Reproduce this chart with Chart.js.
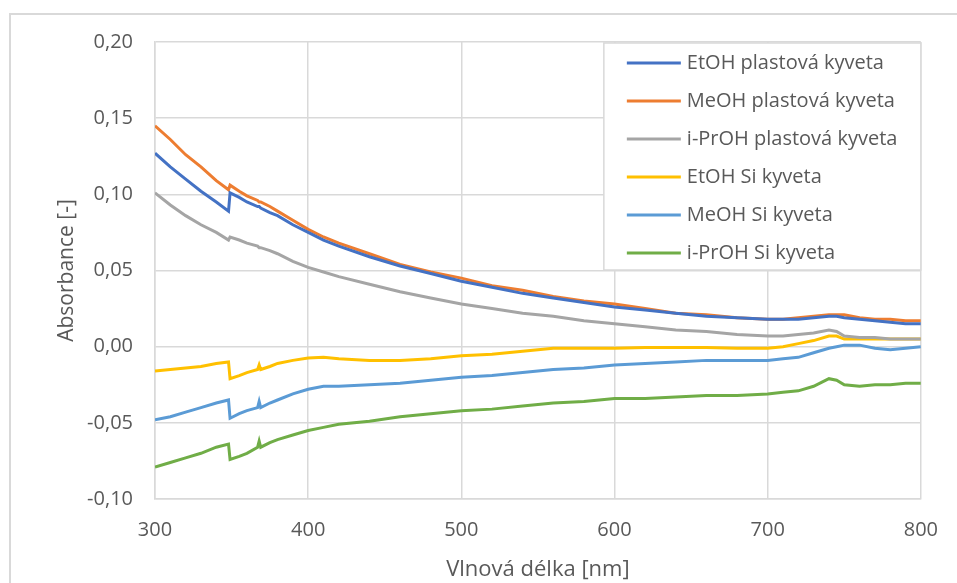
<!DOCTYPE html>
<html>
<head>
<meta charset="utf-8">
<script src="https://cdn.jsdelivr.net/npm/chart.js@4.4.1/dist/chart.umd.min.js"></script>
<style>
html, body { margin: 0; padding: 0; background: #fff; overflow: hidden; }
#wrap { position: relative; width: 957px; height: 583px; overflow: hidden; }
#wrap canvas { position: absolute; left: 0; top: 0; }
#frame { position: absolute; left: 9px; top: 13px; width: 1000px; height: 1000px;
         border: 2px solid #d9d9d9; box-sizing: border-box; pointer-events: none; }
</style>
</head>
<body>
<div id="wrap">
  <canvas id="chart" width="957" height="595"></canvas>
  <div id="frame"></div>
</div>
<script>
// wavelengths [nm]
const wavelengths = [300, 310, 320, 330, 340, 348, 349, 355, 360, 367, 368, 369, 375, 380, 390,
  400, 410, 420, 440, 460, 480, 500, 520, 540, 560, 580, 600, 620, 640, 660, 680,
  700, 710, 720, 730, 740, 745, 750, 760, 770, 780, 790, 800];

const etohPlast = [0.127, 0.118, 0.110, 0.102, 0.095, 0.089, 0.101, 0.098, 0.095, 0.092, 0.092, 0.091, 0.088, 0.086, 0.080,
  0.075, 0.070, 0.066, 0.059, 0.053, 0.048, 0.043, 0.039, 0.035, 0.032, 0.029, 0.026, 0.024, 0.022, 0.020, 0.019,
  0.018, 0.018, 0.018, 0.019, 0.020, 0.020, 0.019, 0.018, 0.017, 0.016, 0.015, 0.015];

const meohPlast = [0.145, 0.136, 0.126, 0.118, 0.109, 0.103, 0.106, 0.102, 0.099, 0.096, 0.095, 0.095, 0.092, 0.089, 0.083,
  0.077, 0.072, 0.068, 0.061, 0.054, 0.049, 0.045, 0.040, 0.037, 0.033, 0.030, 0.028, 0.025, 0.022, 0.021, 0.019,
  0.018, 0.018, 0.019, 0.020, 0.021, 0.021, 0.021, 0.019, 0.018, 0.018, 0.017, 0.017];

const iproPlast = [0.101, 0.093, 0.086, 0.080, 0.075, 0.070, 0.072, 0.070, 0.068, 0.066, 0.065, 0.065, 0.063, 0.061, 0.056,
  0.052, 0.049, 0.046, 0.041, 0.036, 0.032, 0.028, 0.025, 0.022, 0.020, 0.017, 0.015, 0.013, 0.011, 0.010, 0.008,
  0.007, 0.007, 0.008, 0.009, 0.011, 0.010, 0.007, 0.006, 0.006, 0.005, 0.005, 0.005];

const etohSi = [-0.016, -0.015, -0.014, -0.013, -0.011, -0.010, -0.021, -0.019, -0.017, -0.015, -0.012, -0.015, -0.013, -0.011, -0.009,
  -0.0075, -0.007, -0.008, -0.009, -0.009, -0.008, -0.006, -0.005, -0.003, -0.001, -0.001, -0.001, -0.0005, -0.0005, -0.0005, -0.001,
  -0.001, 0.000, 0.002, 0.004, 0.007, 0.007, 0.005, 0.005, 0.005, 0.005, 0.005, 0.005];

const meohSi = [-0.048, -0.046, -0.043, -0.040, -0.037, -0.035, -0.047, -0.044, -0.042, -0.040, -0.036, -0.040, -0.037, -0.035, -0.031,
  -0.028, -0.026, -0.026, -0.025, -0.024, -0.022, -0.020, -0.019, -0.017, -0.015, -0.014, -0.012, -0.011, -0.010, -0.009, -0.009,
  -0.009, -0.008, -0.007, -0.004, -0.001, 0.000, 0.001, 0.001, -0.001, -0.002, -0.001, 0.000];

const iproSi = [-0.079, -0.076, -0.073, -0.070, -0.066, -0.064, -0.074, -0.072, -0.070, -0.066, -0.062, -0.066, -0.063, -0.061, -0.058,
  -0.055, -0.053, -0.051, -0.049, -0.046, -0.044, -0.042, -0.041, -0.039, -0.037, -0.036, -0.034, -0.034, -0.033, -0.032, -0.032,
  -0.031, -0.030, -0.029, -0.026, -0.021, -0.022, -0.025, -0.026, -0.025, -0.025, -0.024, -0.024];

const seriesNames = ['EtOH plastová kyveta', 'MeOH plastová kyveta', 'i-PrOH plastová kyveta',
  'EtOH Si kyveta', 'MeOH Si kyveta', 'i-PrOH Si kyveta'];
const seriesValues = [etohPlast, meohPlast, iproPlast, etohSi, meohSi, iproSi];
const seriesColors = ['#4472C4', '#ED7D31', '#A5A5A5', '#FFC000', '#5B9BD5', '#70AD47'];

const xTicks = [300, 400, 500, 600, 700, 800];
const yMin = -0.10, yMax = 0.20, yStep = 0.05;

const textColor = '#595959';
const gridColor = '#d9d9d9';
const fontFamily = '"Open Sans", "Noto Sans", sans-serif';

// legend box in the upper right corner of the plot
const boxLegend = {
  id: 'boxLegend',
  afterDraw(chart) {
    const ctx = chart.ctx;
    const area = chart.chartArea;
    const w = 317, h = 227;
    const x0 = area.right - w, y0 = area.top + 1;
    ctx.save();
    ctx.fillStyle = '#fff';
    ctx.fillRect(x0, y0, w, h);
    ctx.strokeStyle = gridColor;
    ctx.lineWidth = 1.5;
    ctx.strokeRect(x0, y0, w, h);
    ctx.font = '20px ' + fontFamily;
    ctx.textBaseline = 'middle';
    ctx.textAlign = 'left';
    chart.data.datasets.forEach((ds, i) => {
      const cy = y0 + 20 + i * 38;
      ctx.strokeStyle = ds.borderColor;
      ctx.lineWidth = 3;
      ctx.beginPath();
      ctx.moveTo(x0 + 23, cy);
      ctx.lineTo(x0 + 77, cy);
      ctx.stroke();
      ctx.fillStyle = textColor;
      ctx.fillText(ds.label, x0 + 83, cy);
    });
    ctx.restore();
  }
};

new Chart(document.getElementById('chart'), {
  type: 'line',
  data: {
    datasets: seriesNames.map((name, i) => ({
      label: name,
      data: wavelengths.map((x, j) => ({ x: x, y: seriesValues[i][j] })),
      borderColor: seriesColors[i],
      backgroundColor: seriesColors[i],
      borderWidth: 3,
      pointRadius: 0,
      tension: 0,
      fill: false
    }))
  },
  options: {
    responsive: false,
    animation: false,
    layout: { padding: { top: 42, right: 35, left: 0, bottom: 0 } },
    plugins: {
      legend: { display: false },
      tooltip: { enabled: false }
    },
    scales: {
      x: {
        type: 'linear',
        min: 300,
        max: 800,
        afterBuildTicks: (scale) => { scale.ticks = xTicks.map(v => ({ value: v })); },
        afterFit: (scale) => { scale.height = 96; },
        grid: { color: gridColor, lineWidth: 1.5, drawTicks: false },
        border: { color: gridColor, width: 1.5 },
        ticks: {
          color: textColor,
          font: { family: fontFamily, size: 20 },
          padding: 19,
          maxRotation: 0
        },
        title: {
          display: true,
          text: 'Vlnová délka [nm]',
          color: textColor,
          font: { family: fontFamily, size: 22 },
          padding: { top: 0, bottom: 12 }
        }
      },
      y: {
        min: yMin,
        max: yMax,
        afterFit: (scale) => { scale.width = 155; },
        grid: { color: gridColor, lineWidth: 1.5, drawTicks: false },
        border: { color: gridColor, width: 1.5 },
        ticks: {
          stepSize: yStep,
          color: textColor,
          font: { family: fontFamily, size: 20 },
          padding: 22,
          callback: (v) => {
            const r = Math.round(v * 100) / 100;
            return (Math.abs(r) < 1e-9 ? 0 : r).toFixed(2).replace('.', ',');
          }
        },
        title: {
          display: true,
          text: 'Absorbance [-]',
          color: textColor,
          font: { family: fontFamily, size: 21 },
          padding: { top: 54, bottom: 0 }
        }
      }
    }
  },
  plugins: [boxLegend]
});
</script>
</body>
</html>
